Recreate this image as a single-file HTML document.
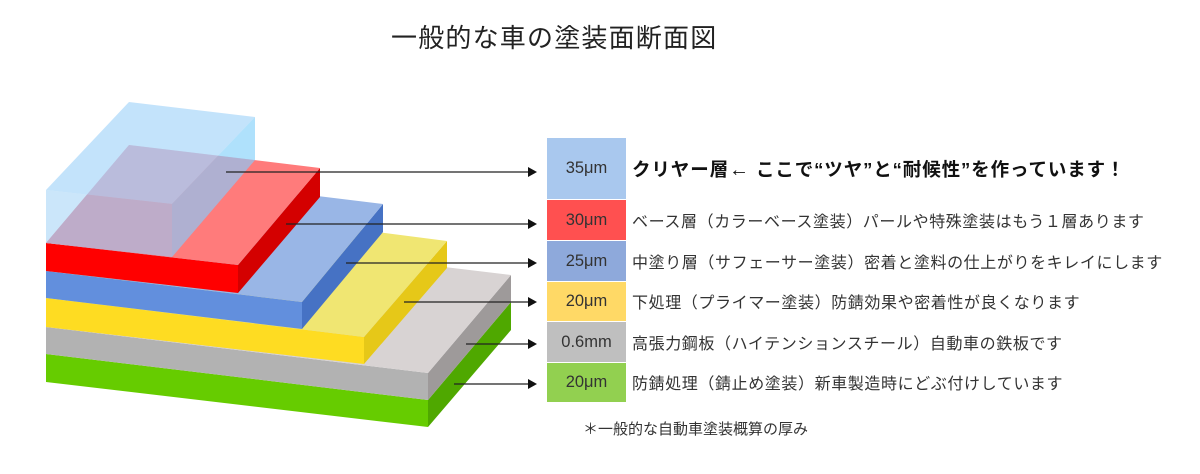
<!DOCTYPE html>
<html><head><meta charset="utf-8"><style>
html,body{margin:0;padding:0;background:#fff;width:1200px;height:474px;overflow:hidden}
body{position:relative;font-family:"Liberation Sans","Noto Sans CJK JP",sans-serif;color:#222}
.t{position:absolute;white-space:nowrap}
.card{position:absolute;left:547px;width:79px;display:flex;align-items:center;justify-content:center;font-size:16.5px;color:#333}
.row{position:absolute;left:632px;font-size:16px;color:#333;white-space:nowrap;letter-spacing:0.6px}
</style></head><body>
<div class="t" style="left:391px;top:18px;font-size:26px;letter-spacing:1.2px;color:#222">一般的な車の塗装面断面図</div>

<svg width="1200" height="474" style="position:absolute;left:0;top:0">
<!-- green -->
<polygon points="46,354 428,400 428,427 46,382" fill="#66cc00"/>
<polygon points="428,400 511,302 511,330 428,427" fill="#4fa800"/>
<!-- gray -->
<polygon points="46,327 428,373 428,400 46,354" fill="#b2b2b2"/>
<polygon points="428,373 511,275 511,302 428,400" fill="#9e9a9a"/>
<polygon points="46,327 129,229 511,275 428,373" fill="#d8d3d3"/>
<!-- yellow -->
<polygon points="46,298 364,337 364,364 46,327" fill="#fedc22"/>
<polygon points="364,337 447,241 447,268 364,364" fill="#e6c818"/>
<polygon points="46,298 129,200 447,241 364,337" fill="#f0e672"/>
<!-- blue -->
<polygon points="46,271 302,302 302,329 46,298" fill="#628fdd"/>
<polygon points="302,302 383,204 383,232 302,329" fill="#4672c4"/>
<polygon points="46,271 129,173 383,204 302,302" fill="#99b6e6"/>
<!-- red -->
<polygon points="46,243 238,265 238,293 46,271" fill="#ff0000"/>
<polygon points="238,265 320,168 320,197 238,293" fill="#d40000"/>
<polygon points="46,243 129,145 320,168 238,265" fill="#ff7b7b"/>
<!-- clear box -->
<polygon points="46,190 129,102 255,117 172,204" fill="rgba(170,215,250,0.7)"/>
<polygon points="46,190 172,204 172,257 46,243" fill="rgba(140,200,245,0.45)"/>
<polygon points="172,204 255,117 255,160 172,257" fill="rgba(110,200,250,0.55)"/>
<polygon points="129,145 255,160 172,257 46,243" fill="rgba(175,190,230,0.45)"/>
<!-- arrows -->
<g stroke="#222" stroke-width="1.2">
<line x1="226" y1="172" x2="530" y2="172"/>
<line x1="286" y1="224" x2="530" y2="224"/>
<line x1="346" y1="263" x2="530" y2="263"/>
<line x1="404" y1="302" x2="530" y2="302"/>
<line x1="466" y1="344" x2="530" y2="344"/>
<line x1="454" y1="384" x2="530" y2="384"/>
</g>
<g fill="#111">
<polygon points="528,167 537,172 528,177"/>
<polygon points="528,219 537,224 528,229"/>
<polygon points="528,258 537,263 528,268"/>
<polygon points="528,297 537,302 528,307"/>
<polygon points="528,339 537,344 528,349"/>
<polygon points="528,379 537,384 528,389"/>
</g>
</svg>

<div class="card" style="top:138px;height:61px;background:#a9c8ee">35μm</div>
<div class="card" style="top:200px;height:40px;background:#ff5050">30μm</div>
<div class="card" style="top:241px;height:40px;background:#8ea9db">25μm</div>
<div class="card" style="top:282px;height:39px;background:#ffd966">20μm</div>
<div class="card" style="top:322px;height:40px;background:#bfbfbf">0.6mm</div>
<div class="card" style="top:363px;height:39px;background:#92d050">20μm</div>

<div class="row" style="top:156px;font-size:18.5px;font-weight:bold;color:#111;letter-spacing:0.9px">クリヤー層<span style="font-size:20px">←</span> ここで“ツヤ”と“耐候性”を作っています！</div>
<div class="row" style="top:208px">ベース層（カラーベース塗装）パールや特殊塗装はもう１層あります</div>
<div class="row" style="top:249px">中塗り層（サフェーサー塗装）密着と塗料の仕上がりをキレイにします</div>
<div class="row" style="top:289px">下処理（プライマー塗装）防錆効果や密着性が良くなります</div>
<div class="row" style="top:330px">高張力鋼板（ハイテンションスチール）自動車の鉄板です</div>
<div class="row" style="top:370px">防錆処理（錆止め塗装）新車製造時にどぶ付けしています</div>
<div class="t" style="left:583px;top:418px;font-size:15px;color:#333">＊一般的な自動車塗装概算の厚み</div>
</body></html>
